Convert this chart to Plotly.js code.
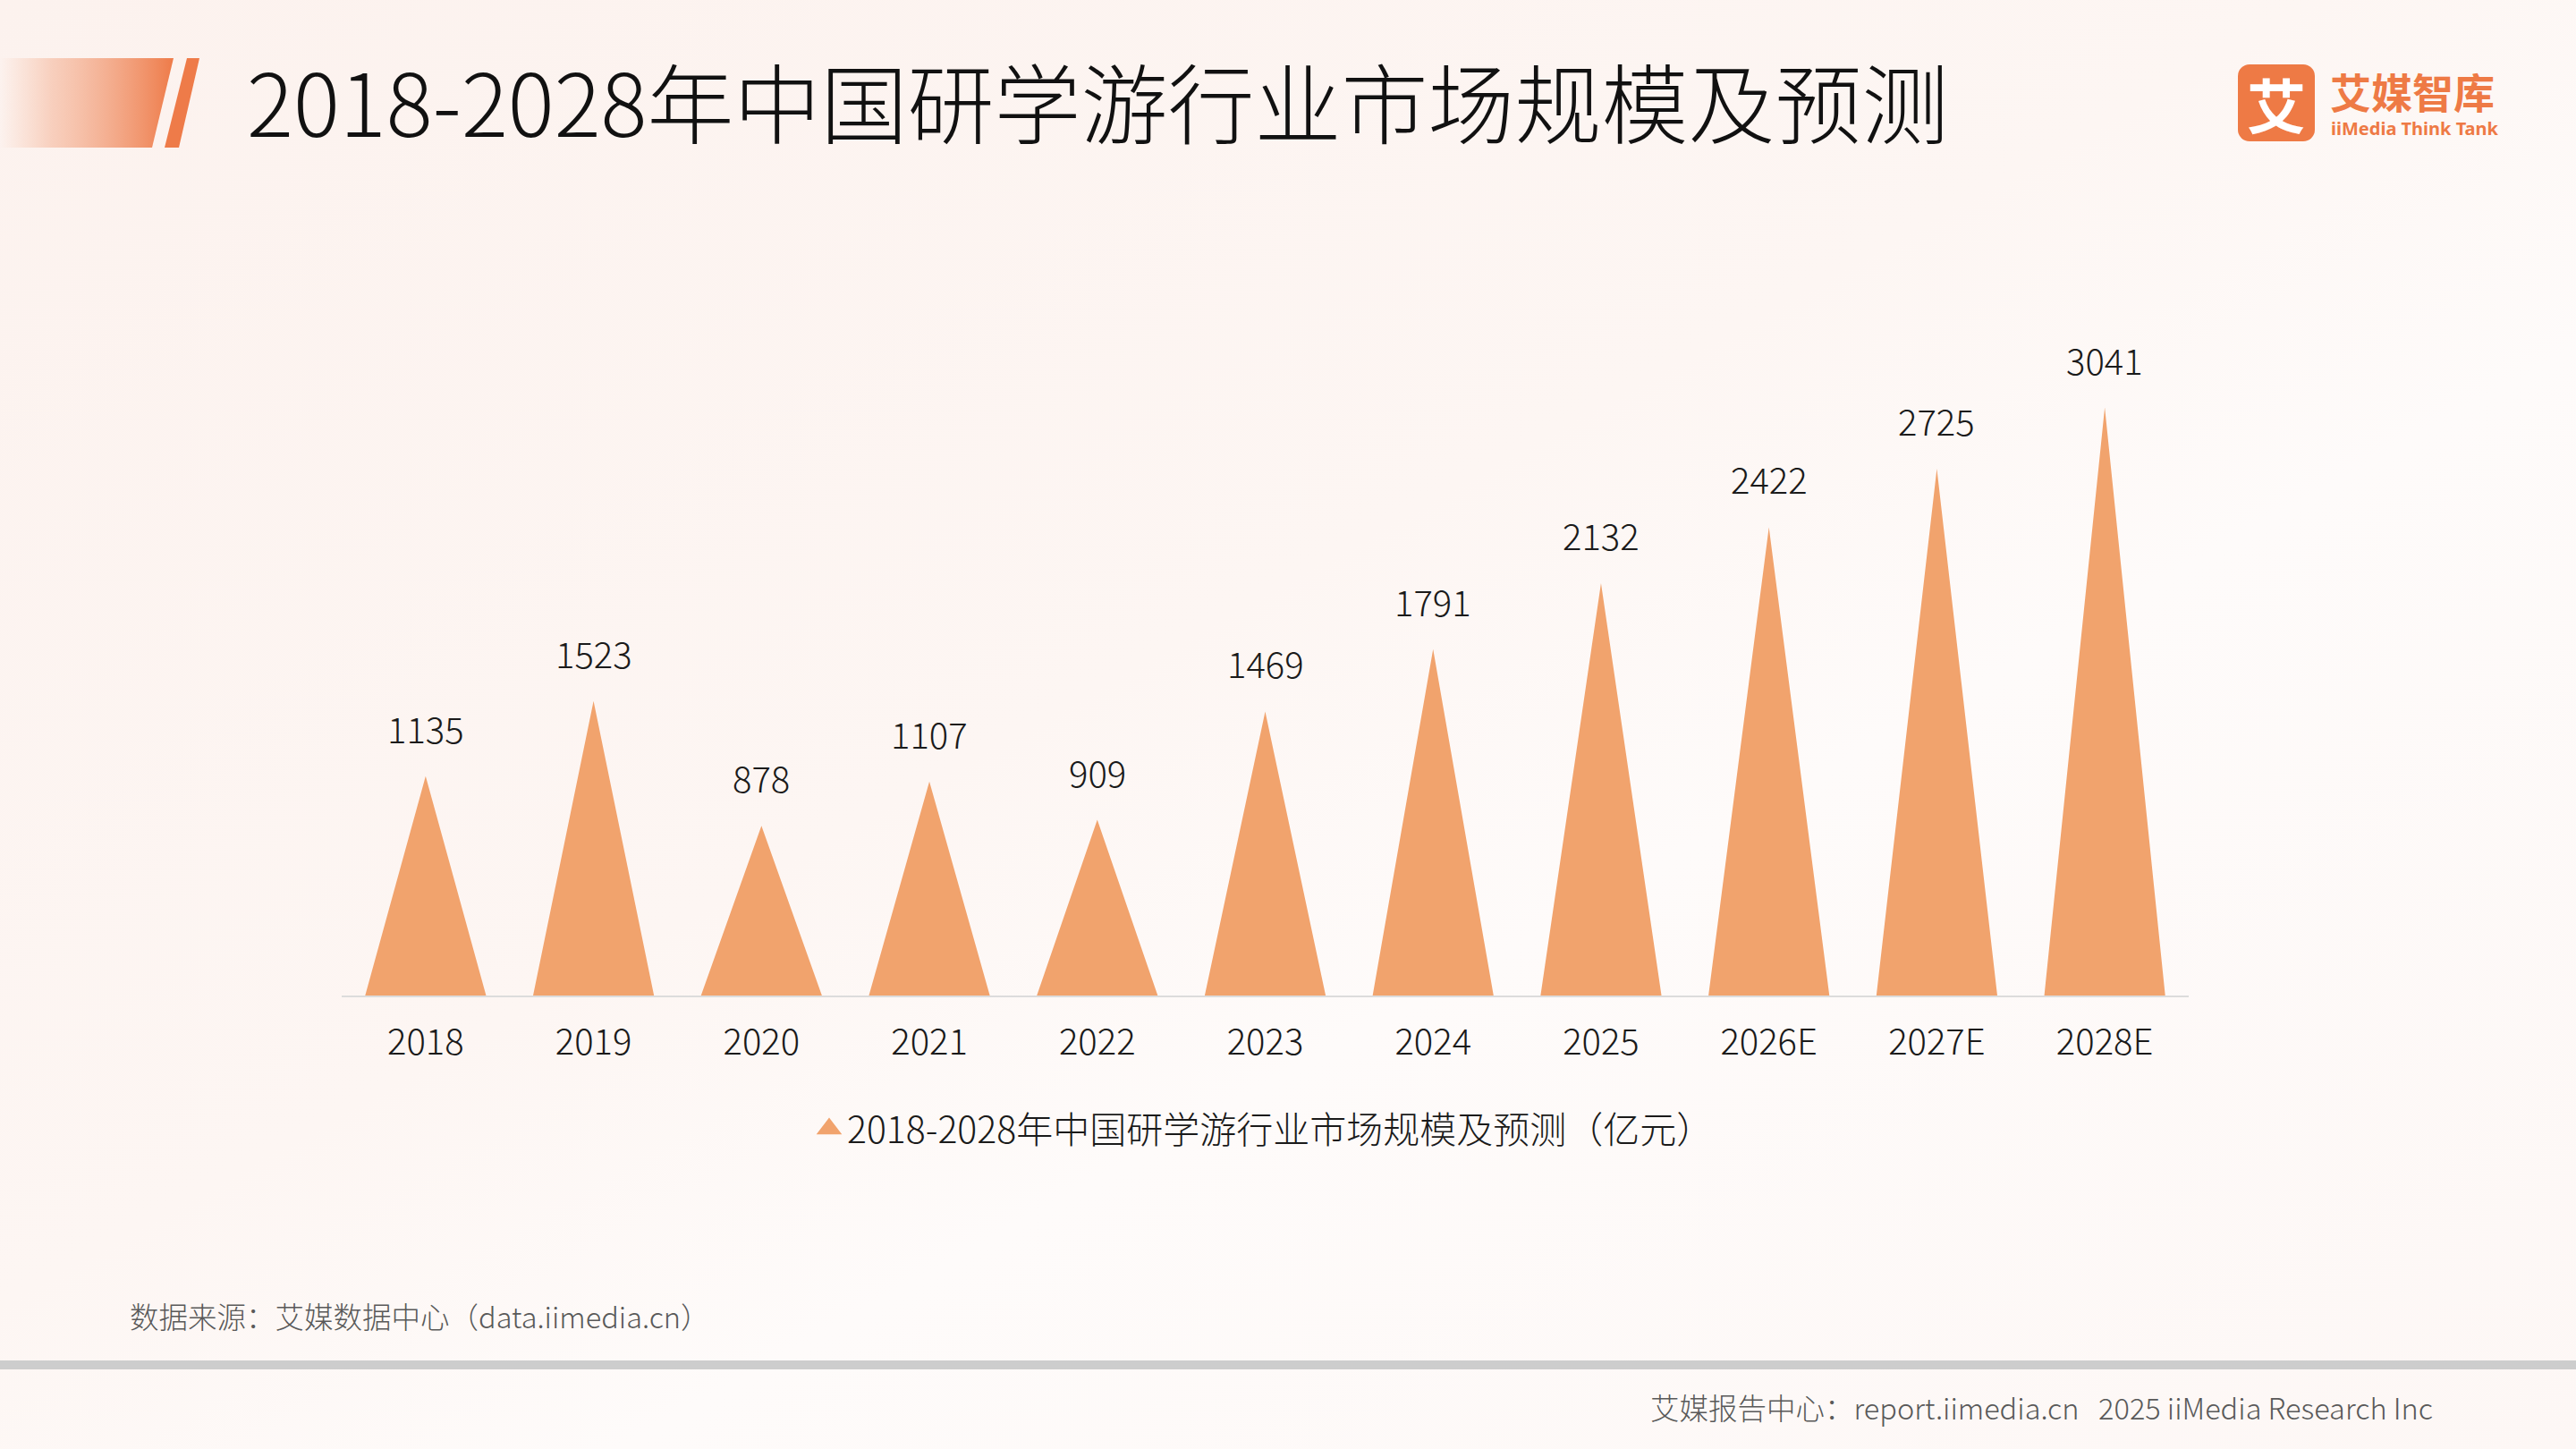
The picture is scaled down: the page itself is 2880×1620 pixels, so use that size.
<!DOCTYPE html>
<html>
<head>
<meta charset="utf-8">
<script src="https://cdn.plot.ly/plotly-3.0.1.min.js"></script>
<style>html,body{margin:0;padding:0;background:#fdf6f3;}#chart{width:2880px;height:1620px;}</style>
</head>
<body>
<div id="chart"></div>
<script>
// ---- data ----
const categories = ['2018','2019','2020','2021','2022','2023','2024','2025','2026E','2027E','2028E'];
const marketSize = [1135, 1523, 878, 1107, 909, 1469, 1791, 2132, 2422, 2725, 3041];
const seriesName = '2018-2028年中国研学游行业市场规模及预测（亿元）';
const chartTitle = '2018-2028年中国研学游行业市场规模及预测';
const sourceText = '数据来源：艾媒数据中心（data.iimedia.cn）';
const footerText = '艾媒报告中心：report.iimedia.cn   2025 iiMedia Research Inc';

// ---- style ----
const W = 2880, H = 1620;
const M = {l: 382, r: 433, t: 378, b: 507};
const PW = W - M.l - M.r, PH = H - M.t - M.b;
const px = x => (x - M.l) / PW;
const py = y => (H - M.b - y) / PH;
const FONT = '"Noto Sans CJK SC", "Noto Sans", sans-serif';
const triColor = '#f1a36d';
const brand = '#ee7a45';
const halfW = 0.36;
const LIGHT = 300;

// triangles from the data, separated by gaps
const tx = [], ty = [];
marketSize.forEach((v, i) => {
  tx.push(i - halfW, i, i + halfW, i - halfW, null);
  ty.push(0, v, 0, 0, null);
});

const bgSvg = `<svg xmlns='http://www.w3.org/2000/svg' width='2880' height='1620' viewBox='0 0 2880 1620'>
<defs>
<linearGradient id='bg' x1='0' y1='0' x2='1' y2='1'>
<stop offset='0' stop-color='#fcf2ee'/>
<stop offset='0.45' stop-color='#fdf6f3'/>
<stop offset='0.62' stop-color='#fefbfa'/>
<stop offset='1' stop-color='#fdf7f5'/>
</linearGradient>
<linearGradient id='dec' x1='0' y1='0' x2='1' y2='0'>
<stop offset='0' stop-color='#f6b79a' stop-opacity='0'/>
<stop offset='0.3' stop-color='#f4b295' stop-opacity='0.55'/>
<stop offset='1' stop-color='#ee7b49'/>
</linearGradient>
</defs>
<rect width='2880' height='1620' fill='url(#bg)'/>
<polygon points='0,65 194,65 170,165 0,165' fill='url(#dec)'/>
<polygon points='209,65 223,65 200,165 184,165' fill='#ee7b49'/>
<rect x='2502' y='72' width='86' height='86' rx='13' ry='13' fill='${brand}'/>
</svg>`;

const traces = [
  {
    type: 'scatter', x: tx, y: ty, mode: 'lines', fill: 'toself',
    fillcolor: triColor, line: {width: 0, color: triColor},
    showlegend: false, hoverinfo: 'skip', connectgaps: false
  },
  {
    type: 'scatter', x: [null], y: [null], mode: 'markers',
    marker: {symbol: 'triangle-up', size: 16, color: triColor, line: {width: 5, color: triColor}},
    name: seriesName, showlegend: true, hoverinfo: 'skip'
  }
];

const annotations = marketSize.map((v, i) => ({
  x: i, y: v, xref: 'x', yref: 'y', text: String(v), showarrow: false,
  yanchor: 'bottom', yshift: 23, font: {family: FONT, size: 40, weight: LIGHT, color: '#1a1a1a'}
}));

annotations.push(
  {xref: 'paper', yref: 'paper', x: px(274), y: py(110), xanchor: 'left', yanchor: 'middle',
   text: chartTitle, showarrow: false, font: {family: FONT, size: 97, weight: LIGHT, color: '#111111'}},
  {xref: 'paper', yref: 'paper', x: px(2545), y: py(115), xanchor: 'center', yanchor: 'middle',
   text: '<b>艾</b>', showarrow: false, font: {family: FONT, size: 66, color: '#ffffff'}},
  {xref: 'paper', yref: 'paper', x: px(2603), y: py(101), xanchor: 'left', yanchor: 'middle',
   text: '<b>艾媒智库</b>', showarrow: false, font: {family: FONT, size: 46, weight: 900, color: brand}},
  {xref: 'paper', yref: 'paper', x: px(2604), y: py(144), xanchor: 'left', yanchor: 'middle',
   text: '<b>iiMedia Think Tank</b>', showarrow: false, font: {family: '"Noto Sans", sans-serif', size: 20, color: brand}},
  {xref: 'paper', yref: 'paper', x: px(143), y: py(1470), xanchor: 'left', yanchor: 'middle',
   text: sourceText, showarrow: false, font: {family: FONT, size: 32.5, weight: LIGHT, color: '#595959'}},
  {xref: 'paper', yref: 'paper', x: px(2722), y: py(1572), xanchor: 'right', yanchor: 'middle',
   text: footerText, showarrow: false, font: {family: FONT, size: 32.5, weight: LIGHT, color: '#595959'}}
);

const layout = {
  width: W, height: H,
  margin: M,
  paper_bgcolor: '#fdf6f3',
  plot_bgcolor: 'rgba(0,0,0,0)',
  font: {family: FONT, color: '#1a1a1a'},
  xaxis: {
    type: 'linear', range: [-0.5, categories.length - 0.5],
    tickvals: categories.map((c, i) => i), ticktext: categories,
    tickfont: {family: FONT, size: 40, weight: LIGHT, color: '#1a1a1a'},
    ticks: '', ticklabelstandoff: 16,
    showline: true, linecolor: '#dcdcdc', linewidth: 2,
    showgrid: false, zeroline: false, fixedrange: true
  },
  yaxis: {
    range: [0, 3400], visible: false, showgrid: false, zeroline: false, fixedrange: true
  },
  showlegend: true,
  legend: {
    orientation: 'h', x: px(1414), xanchor: 'center', y: py(1262), yanchor: 'middle',
    font: {family: FONT, size: 41, weight: LIGHT, color: '#1a1a1a'}, bgcolor: 'rgba(0,0,0,0)'
  },
  images: [{
    source: 'data:image/svg+xml;charset=utf-8,' + encodeURIComponent(bgSvg),
    xref: 'paper', yref: 'paper', x: px(0), y: py(0), sizex: W / PW, sizey: H / PH,
    xanchor: 'left', yanchor: 'top', sizing: 'stretch', layer: 'below'
  }],
  shapes: [{
    type: 'rect', xref: 'paper', yref: 'paper', x0: px(0), x1: px(W), y0: py(1521), y1: py(1531),
    fillcolor: '#cdcdcd', line: {width: 0}, layer: 'below'
  }],
  annotations: annotations
};

Plotly.newPlot('chart', traces, layout, {displayModeBar: false, staticPlot: true});
</script>
</body>
</html>
